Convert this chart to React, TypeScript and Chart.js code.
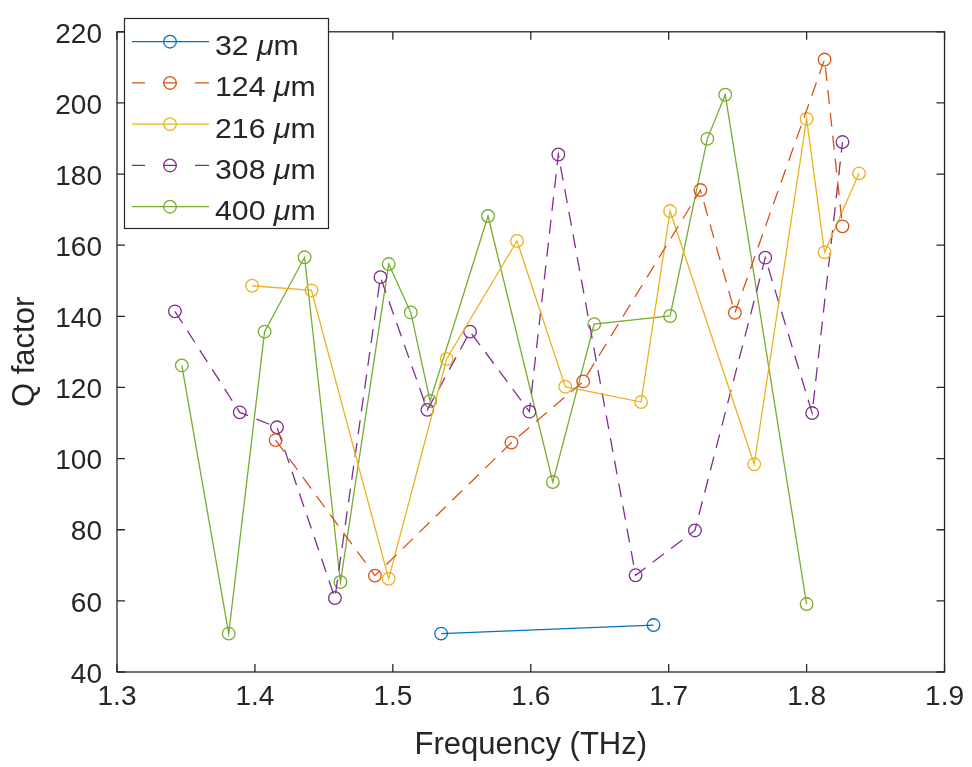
import React, { useEffect, useRef } from 'react';
import { Chart, registerables } from 'chart.js';

Chart.register(...registerables);

// ---- data ----
const seriesNames = ['32', '124', '216', '308', '400'];
const seriesColors = ['#0072BD', '#D95319', '#EDB120', '#7E2F8E', '#77AC30'];
const seriesDashed = [false, true, false, true, false];

const freq32 = [1.535, 1.689];
const q32 = [50.8, 53.2];

const freq124 = [1.415, 1.487, 1.586, 1.638, 1.723, 1.748, 1.813, 1.826];
const q124 = [105.2, 67.1, 104.5, 121.7, 175.5, 141.0, 212.2, 165.3];

const freq216 = [1.398, 1.441, 1.497, 1.539, 1.590, 1.625, 1.680, 1.701, 1.762, 1.800, 1.813, 1.838];
const q216 = [148.6, 147.3, 66.2, 128.0, 161.2, 120.2, 115.9, 169.6, 98.4, 195.5, 158.0, 180.2];

const freq308 = [1.342, 1.389, 1.416, 1.458, 1.491, 1.525, 1.556, 1.599, 1.620, 1.676, 1.719, 1.770, 1.804, 1.826];
const q308 = [141.4, 113.0, 108.8, 60.8, 151.0, 113.7, 135.7, 113.2, 185.5, 67.2, 79.8, 156.5, 112.8, 189.0];

const freq400 = [1.347, 1.381, 1.407, 1.436, 1.462, 1.497, 1.513, 1.527, 1.569, 1.616, 1.646, 1.701, 1.728, 1.741, 1.800];
const q400 = [126.2, 50.8, 135.7, 156.6, 65.3, 154.7, 141.1, 116.2, 168.2, 93.4, 137.8, 140.1, 189.9, 202.3, 59.1];

const xTicks = [1.3, 1.4, 1.5, 1.6, 1.7, 1.8, 1.9];
const yTicks = [40, 60, 80, 100, 120, 140, 160, 180, 200, 220];

const seriesFreq = [freq32, freq124, freq216, freq308, freq400];
const seriesQ = [q32, q124, q216, q308, q400];

const FONT = "'Liberation Sans', Arial, Helvetica, sans-serif";
const INK = '#262626';
const DASH = [14, 9];

const boxPlugin = {
  id: 'matlabBox',
  afterDraw(chart: any) {
    const { ctx, chartArea: a, scales } = chart;
    ctx.save();
    ctx.setLineDash([]);
    ctx.strokeStyle = INK;
    ctx.lineWidth = 1.3;
    ctx.strokeRect(a.left, a.top, a.right - a.left, a.bottom - a.top);
    const tl = 8;
    ctx.beginPath();
    scales.x.ticks.forEach((t: any) => {
      const px = scales.x.getPixelForValue(t.value);
      ctx.moveTo(px, a.bottom);
      ctx.lineTo(px, a.bottom - tl);
      ctx.moveTo(px, a.top);
      ctx.lineTo(px, a.top + tl);
    });
    scales.y.ticks.forEach((t: any) => {
      const py = scales.y.getPixelForValue(t.value);
      ctx.moveTo(a.left, py);
      ctx.lineTo(a.left + tl, py);
      ctx.moveTo(a.right, py);
      ctx.lineTo(a.right - tl, py);
    });
    ctx.stroke();

    // legend
    const lx0 = 124, ly0 = 18, lx1 = 329, ly1 = 229;
    ctx.fillStyle = '#ffffff';
    ctx.fillRect(lx0, ly0, lx1 - lx0, ly1 - ly0);
    ctx.lineWidth = 1.2;
    ctx.strokeStyle = INK;
    ctx.strokeRect(lx0 + 0.5, ly0 + 0.5, lx1 - lx0 - 1, ly1 - ly0 - 1);
    seriesNames.forEach((name, i) => {
      const y = 41.7 + i * 41.25;
      const c = seriesColors[i];
      ctx.strokeStyle = c;
      ctx.lineWidth = 1.3;
      ctx.setLineDash([]);
      ctx.beginPath();
      if (seriesDashed[i]) {
        ctx.moveTo(132, y); ctx.lineTo(145, y);
        ctx.moveTo(163, y); ctx.lineTo(177, y);
        ctx.moveTo(195, y); ctx.lineTo(209, y);
      } else {
        ctx.moveTo(132, y); ctx.lineTo(209, y);
      }
      ctx.stroke();
      ctx.beginPath();
      ctx.arc(170, y, 6.3, 0, Math.PI * 2);
      ctx.stroke();
      // text
      ctx.save();
      ctx.translate(215, y + 13.3);
      ctx.scale(1.08, 1);
      ctx.fillStyle = INK;
      ctx.textBaseline = 'alphabetic';
      ctx.textAlign = 'left';
      ctx.font = `28px ${FONT}`;
      const t1 = name + ' ';
      ctx.fillText(t1, 0, 0);
      let x = ctx.measureText(t1).width;
      ctx.font = `italic 28px ${FONT}`;
      ctx.fillText('\u03bc', x, 0);
      x += ctx.measureText('\u03bc').width;
      ctx.font = `28px ${FONT}`;
      ctx.fillText('m', x, 0);
      ctx.restore();
    });
    ctx.restore();
  },
};

export default function App() {
  const ref = useRef<HTMLCanvasElement | null>(null);
  useEffect(() => {
    document.body.style.margin = '0';
    const canvas = ref.current;
    if (!canvas) return;
    const datasets = seriesNames.map((name, i) => ({
      label: name + ' \u03bcm',
      data: seriesFreq[i].map((f, j) => ({ x: f, y: seriesQ[i][j] })),
      showLine: true,
      borderColor: seriesColors[i],
      backgroundColor: 'rgba(0,0,0,0)',
      borderWidth: 1.3,
      borderDash: seriesDashed[i] ? DASH : [],
      pointStyle: 'circle',
      pointRadius: 6.3,
      pointBorderWidth: 1.3,
      pointBorderColor: seriesColors[i],
      pointBackgroundColor: 'rgba(0,0,0,0)',
      tension: 0,
      clip: false,
    }));
    const chart = new Chart(canvas, {
      type: 'scatter',
      data: { datasets },
      plugins: [boxPlugin],
      options: {
        responsive: false,
        animation: false,
        devicePixelRatio: 1,
        layout: { padding: { top: 21, right: 24, left: 0, bottom: 0 } },
        plugins: { legend: { display: false }, tooltip: { enabled: false } },
        scales: {
          x: {
            type: 'linear',
            min: xTicks[0],
            max: xTicks[xTicks.length - 1],
            afterBuildTicks: (s: any) => { s.ticks = xTicks.map((v) => ({ value: v })); },
            ticks: {
              callback: (v: any) => Number(v).toFixed(1),
              font: { family: FONT, size: 28 },
              color: INK,
              padding: 8,
              maxRotation: 0,
              autoSkip: false,
            },
            grid: { display: false, drawTicks: false },
            border: { display: false },
            title: {
              display: true,
              text: 'Frequency (THz)',
              font: { family: FONT, size: 31, lineHeight: 1 },
              color: INK,
              padding: { top: 0, bottom: 6 },
            },
            afterFit: (s: any) => { s.height = 95; },
          },
          y: {
            type: 'linear',
            min: yTicks[0],
            max: yTicks[yTicks.length - 1],
            afterBuildTicks: (s: any) => { s.ticks = yTicks.map((v) => ({ value: v })); },
            ticks: {
              callback: (v: any) => String(Math.round(Number(v))),
              font: { family: FONT, size: 28 },
              color: INK,
              padding: 15,
              labelOffset: 3,
              autoSkip: false,
            },
            grid: { display: false, drawTicks: false },
            border: { display: false },
            title: {
              display: true,
              text: 'Q factor',
              font: { family: FONT, size: 31, lineHeight: 1 },
              color: INK,
              padding: { top: 10, bottom: 0 },
            },
            afterFit: (s: any) => { s.width = 117; },
          },
        },
      },
    });
    return () => chart.destroy();
  }, []);
  return (
    <canvas ref={ref} width={972} height={767} style={{ display: 'block', width: 972, height: 767 }} />
  );
}
